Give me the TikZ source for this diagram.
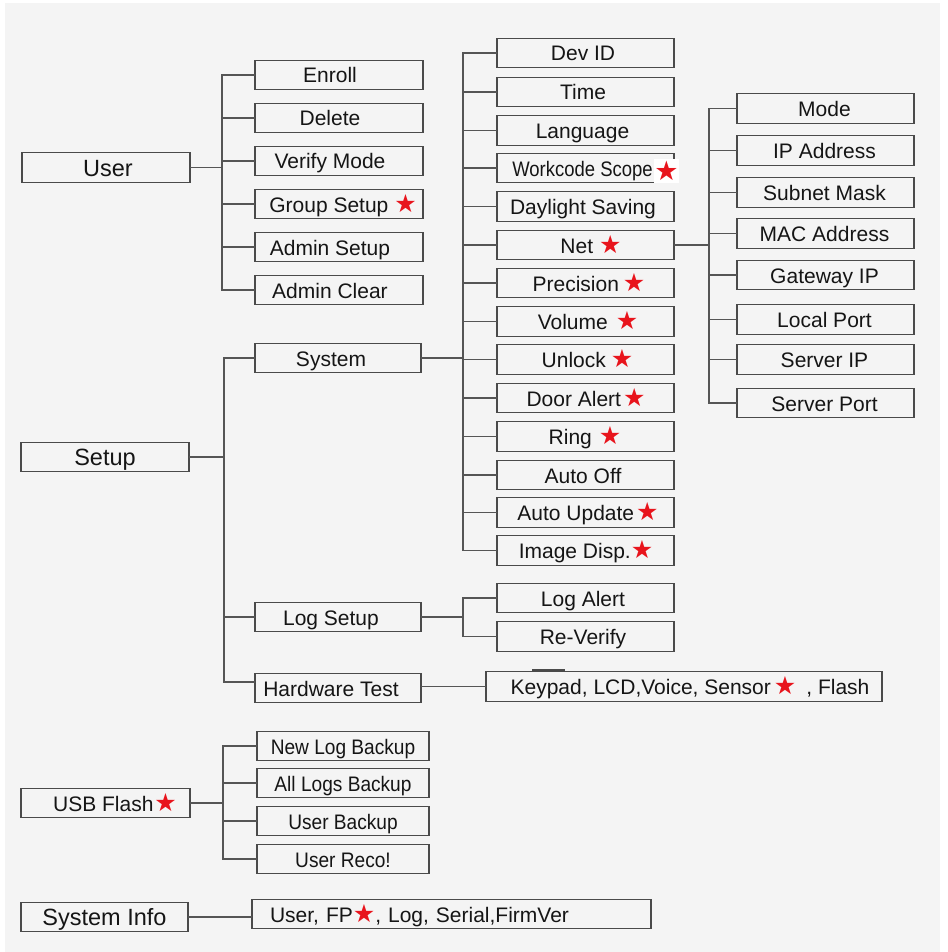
\documentclass[tikz,border=0pt]{standalone}
\usepackage{fontspec}
\usepackage{graphicx}
\setmainfont{Liberation Sans}
\newfontfamily\symfont{DejaVu Sans}
\definecolor{bg}{HTML}{F4F4F4}
\definecolor{boxc}{HTML}{4A4A4A}
\definecolor{linec}{HTML}{555555}
\definecolor{ink}{HTML}{151515}
\definecolor{starred}{HTML}{E8141C}
\newcommand\rstar{{\symfont\fontsize{25pt}{25pt}\selectfont\color{starred}★}}
\tikzset{
  box/.style={draw=boxc, line width=1.4pt, fill=bg, inner sep=0pt, minimum height=29.5pt},
  lt/.style={inner sep=0pt, text=ink, text height=17.8pt, text depth=0pt, font=\fontsize{23.5pt}{27pt}\selectfont},
  ls/.style={inner sep=0pt, text=ink, text height=16pt, text depth=0pt, font=\fontsize{21pt}{25pt}\selectfont},
  ln/.style={draw=linec, line width=1.3pt, line cap=rect},
}
\begin{document}
\begin{tikzpicture}[x=1pt, y=-1pt]
\useasboundingbox (0,0) rectangle (947,952);
\fill[white] (0,0) rectangle (947,952);
\fill[bg] (5,3) rectangle (940,952);

% top level
\node[box, minimum width=168pt, label={[lt, xshift=2pt]center:User}] (user) at (106,167.5) {};
\node[box, minimum width=168pt, label={[lt]center:Setup}] (setup) at (105,457) {};
\node[box, minimum width=169pt, label={[ls, xshift=9.5pt]center:USB Flash\hspace{1pt}\rstar}] (usb) at (105.5,803) {};
\node[box, minimum width=167pt, label={[lt]center:System Info}] (sysinfo) at (104.5,917) {};

% user column
\node[box, minimum width=168pt, label={[ls, xshift=-9pt]center:Enroll}] (enroll) at (339,75) {};
\node[box, minimum width=168pt, label={[ls, xshift=-9pt]center:Delete}] (delete) at (339,118) {};
\node[box, minimum width=168pt, label={[ls, xshift=-9pt]center:Verify Mode}] (verify) at (339,161) {};
\node[box, minimum width=168pt, label={[ls, xshift=4pt]center:Group Setup \rstar}] (group) at (339,204) {};
\node[box, minimum width=168pt, label={[ls, xshift=-9pt]center:Admin Setup}] (asetup) at (339,247) {};
\node[box, minimum width=168pt, label={[ls, xshift=-9pt]center:Admin Clear}] (aclear) at (339,290) {};

% setup column
\node[box, minimum width=166pt, label={[ls, xshift=-7pt]center:System}] (system) at (338,358) {};
\node[box, minimum width=166pt, label={[ls, xshift=-7pt]center:Log Setup}] (logsetup) at (338,617) {};
\node[box, minimum width=166pt, label={[ls, xshift=-7pt]center:Hardware Test}] (hwtest) at (338,688) {};

% system column
\node[box, minimum width=177pt, label={[ls, xshift=-2.5pt]center:Dev ID}] (devid) at (585.5,53) {};
\node[box, minimum width=177pt, label={[ls, xshift=-2.5pt]center:Time}] (time) at (585.5,92) {};
\node[box, minimum width=177pt, label={[ls, xshift=-3pt]center:Language}] (lang) at (585.5,130.5) {};
\node[box, minimum width=177pt, label={[ls, xshift=-3pt]center:\scalebox{0.88}[1]{Workcode Scope}}] (workcode) at (585.5,168) {};
\node[box, minimum width=177pt, label={[ls, xshift=-2.5pt]center:Daylight Saving}] (daylight) at (585.5,206.5) {};
\node[box, minimum width=177pt, label={[ls, xshift=5.5pt]center:Net\hspace{6pt}\rstar}] (net) at (585.5,245) {};
\node[box, minimum width=177pt, label={[ls, xshift=3.5pt]center:Precision\hspace{4pt}\rstar}] (precision) at (585.5,283) {};
\node[box, minimum width=177pt, label={[ls, xshift=2.5pt]center:Volume\hspace{8pt}\rstar}] (volume) at (585.5,321.5) {};
\node[box, minimum width=177pt, label={[ls, xshift=2pt]center:Unlock\hspace{5pt}\rstar}] (unlock) at (585.5,359.5) {};
\node[box, minimum width=177pt, label={[ls, xshift=0.5pt]center:Door Alert\hspace{2pt}\rstar}] (dooralert) at (585.5,398) {};
\node[box, minimum width=177pt, label={[ls, xshift=-0.5pt]center:Ring\hspace{7pt}\rstar}] (ring) at (585.5,436.5) {};
\node[box, minimum width=177pt, label={[ls, xshift=-2.5pt]center:Auto Off}] (autooff) at (585.5,475) {};
\node[box, minimum width=177pt, label={[ls, xshift=2.5pt]center:Auto Update\hspace{2pt}\rstar}] (autoupdate) at (585.5,512.5) {};
\node[box, minimum width=177pt, label={[ls, xshift=0.5pt]center:Image Disp.\rstar}] (imagedisp) at (585.5,550.5) {};
\node[fill=white, inner sep=0pt, minimum width=23pt, minimum height=24pt, text=starred, font=\fontsize{27pt}{27pt}\symfont] (wstar) at (666.5,171) {★};

% net column
\node[box, minimum width=177pt, label={[ls, xshift=-1pt]center:Mode}] (mode) at (825.5,108.5) {};
\node[box, minimum width=177pt, label={[ls, xshift=-1pt]center:IP Address}] (ipaddr) at (825.5,150.5) {};
\node[box, minimum width=177pt, label={[ls, xshift=-1pt]center:Subnet Mask}] (subnet) at (825.5,192.5) {};
\node[box, minimum width=177pt, label={[ls, xshift=-1pt]center:MAC Address}] (mac) at (825.5,233.5) {};
\node[box, minimum width=177pt, label={[ls, xshift=-1pt]center:Gateway IP}] (gateway) at (825.5,275) {};
\node[box, minimum width=177pt, label={[ls, xshift=-1pt]center:Local Port}] (localport) at (825.5,319.5) {};
\node[box, minimum width=177pt, label={[ls, xshift=-1pt]center:Server IP}] (serverip) at (825.5,359.5) {};
\node[box, minimum width=177pt, label={[ls, xshift=-1pt]center:Server Port}] (serverport) at (825.5,403) {};

% log setup children
\node[box, minimum width=177pt, label={[ls, xshift=-2.5pt]center:Log Alert}] (logalert) at (585.5,598) {};
\node[box, minimum width=177pt, label={[ls, xshift=-2.5pt]center:Re-Verify}] (reverify) at (585.5,636.5) {};

% hardware test child
\node[box, minimum width=396pt, label={[ls, xshift=6pt]center:Keypad, LCD,Voice, Sensor\hspace{3pt}\rstar\hspace{10pt}, Flash}] (keypad) at (684,686.5) {};
\draw[boxc, line width=2pt] ([xshift=-152pt, yshift=1pt]keypad.north) -- ([xshift=-119pt, yshift=1pt]keypad.north);

% usb children
\node[box, minimum width=172pt, label={[ls]center:\scalebox{0.91}[1]{New Log Backup}}] (newlog) at (343,746) {};
\node[box, minimum width=172pt, label={[ls]center:\scalebox{0.91}[1]{All Logs Backup}}] (alllogs) at (343,783) {};
\node[box, minimum width=172pt, label={[ls]center:\scalebox{0.91}[1]{User Backup}}] (userbackup) at (343,821) {};
\node[box, minimum width=172pt, label={[ls]center:\scalebox{0.91}[1]{User Reco!}}] (userreco) at (343,859) {};

% system info child
\node[box, ls, minimum width=399pt, inner xsep=18pt, text width=363pt, align=left] (fp) at (451.5,914) {User, FP\rstar, Log, Serial,FirmVer};

% connectors
\coordinate (ut) at (222,0);
\coordinate (st) at (224,0);
\coordinate (yt) at (463,0);
\coordinate (nt) at (709,0);
\coordinate (ub) at (223,0);
\coordinate (hwin) at ([yshift=6pt]hwtest.west);

\draw[ln] (user.east) -- (user.east -| ut);
\draw[ln] (ut |- enroll.west) -- (ut |- aclear.west);
\foreach \n in {enroll,delete,verify,group,asetup,aclear} \draw[ln] (ut |- \n.west) -- (\n.west);

\draw[ln] (setup.east) -- (setup.east -| st);
\draw[ln] (st |- system.west) -- (st |- hwin);
\draw[ln] (st |- system.west) -- (system.west);
\draw[ln] (st |- logsetup.west) -- (logsetup.west);
\draw[ln] (st |- hwin) -- (hwin);

\draw[ln] (system.east) -- (system.east -| yt);
\draw[ln] (yt |- devid.west) -- (yt |- imagedisp.west);
\foreach \n in {devid,time,lang,workcode,daylight,net,precision,volume,unlock,dooralert,ring,autooff,autoupdate,imagedisp} \draw[ln] (yt |- \n.west) -- (\n.west);

\draw[ln] (net.east) -- (net.east -| nt);
\draw[ln] (nt |- mode.west) -- (nt |- serverport.west);
\foreach \n in {mode,ipaddr,subnet,mac,gateway,localport,serverip,serverport} \draw[ln] (nt |- \n.west) -- (\n.west);

\draw[ln] (logsetup.east) -- (logsetup.east -| yt);
\draw[ln] (yt |- logalert.west) -- (yt |- reverify.west);
\foreach \n in {logalert,reverify} \draw[ln] (yt |- \n.west) -- (\n.west);

\draw[ln] (keypad.west -| hwtest.east) -- (keypad.west);

\draw[ln] (usb.east) -- (usb.east -| ub);
\draw[ln] (ub |- newlog.west) -- (ub |- userreco.west);
\foreach \n in {newlog,alllogs,userbackup,userreco} \draw[ln] (ub |- \n.west) -- (\n.west);

\draw[ln] (sysinfo.east) -- (sysinfo.east -| fp.west);
\end{tikzpicture}
\end{document}
